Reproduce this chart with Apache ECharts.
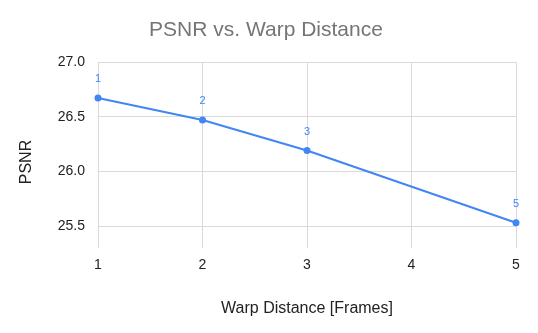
<!DOCTYPE html>
<html>
<head>
<meta charset="utf-8">
<script src="https://cdn.jsdelivr.net/npm/echarts@6/dist/echarts.min.js"></script>
<style>
  html, body { margin: 0; padding: 0; background: #fff; }
  #chart { width: 538px; height: 333px; }
</style>
</head>
<body>
<div id="chart"></div>
<script>
// data
var warpDistance = [1, 2, 3, 5];
var psnrValues = [26.67, 26.47, 26.19, 25.53];
var xTicks = [1, 2, 3, 4, 5];
var yTicks = [25.5, 26.0, 26.5, 27.0];

var points = warpDistance.map(function (d, i) { return [d, psnrValues[i]]; });

var chart = echarts.init(document.getElementById('chart'));

var option = {
	animation: false,
	backgroundColor: '#ffffff',
	textStyle: { fontFamily: 'Liberation Sans, Arial, sans-serif' },
	title: {
		text: 'PSNR vs. Warp Distance',
		left: 261,
		textAlign: 'center',
		top: 15,
		textStyle: { color: '#757575', fontSize: 21, fontWeight: 'normal', fontFamily: 'Liberation Sans, Arial, sans-serif' }
	},
	grid: { left: 98, right: 22, top: 62, bottom: 107, containLabel: false },
	xAxis: {
		type: 'value',
		min: xTicks[0],
		max: xTicks[xTicks.length - 1],
		interval: 1,
		name: 'Warp Distance [Frames]',
		nameLocation: 'middle',
		nameGap: 75,
		nameTextStyle: { color: '#222', fontSize: 16 },
		axisLine: { show: false },
		axisTick: { show: true, inside: false, length: 22, lineStyle: { color: '#dadada', width: 1 } },
		axisLabel: { color: '#222', fontSize: 14, margin: 32 },
		splitLine: { show: true, lineStyle: { color: '#dadada', width: 1 } }
	},
	yAxis: {
		type: 'value',
		min: yTicks[0],
		max: yTicks[yTicks.length - 1],
		interval: 0.5,
		name: 'PSNR',
		nameLocation: 'middle',
		nameGap: 63,
		nameTextStyle: { color: '#222', fontSize: 16, padding: [0, 36, 0, 0] },
		axisLine: { show: false },
		axisTick: { show: false },
		axisLabel: {
			color: '#222', fontSize: 14, margin: 13,
			formatter: function (v) { return v.toFixed(1); }
		},
		splitLine: { show: true, lineStyle: { color: '#dadada', width: 1 } }
	},
	series: [{
		type: 'line',
		data: points,
		color: '#4285f4',
		lineStyle: { width: 2, color: '#4285f4' },
		symbol: 'circle',
		symbolSize: 7,
		itemStyle: { color: '#4285f4' },
		label: {
			show: true,
			position: 'top',
			distance: 10,
			color: '#4285f4',
			fontSize: 11,
			formatter: function (p) { return p.value[0]; }
		}
	}]
};

chart.setOption(option);
</script>
</body>
</html>
